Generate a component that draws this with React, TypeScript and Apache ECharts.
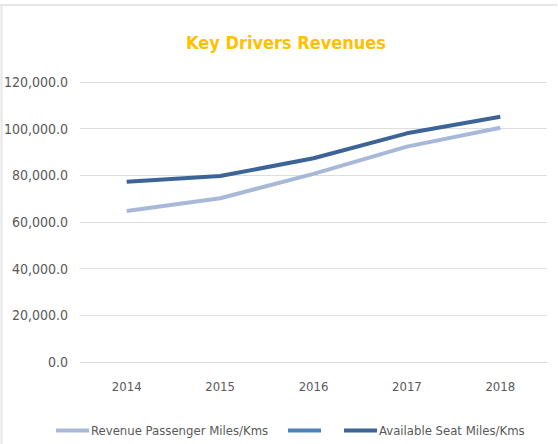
import React, { useEffect, useRef } from "react";
import * as echarts from "echarts";

const years = ["2014", "2015", "2016", "2017", "2018"];
const revenuePassenger = [64700, 70200, 80600, 92300, 100400];
const availableSeat = [77300, 79700, 87300, 98000, 105100];
const unnamedSeries: (number | null)[] = [null, null, null, null, null];

const FONT = "'DejaVu Sans Condensed', 'Liberation Sans', sans-serif";

const legendText = { color: "#595959", fontFamily: FONT, fontSize: 13, padding: [0, 0, 0, -3] };

function legendAt(name: string, left: number) {
  return {
    left,
    top: 419,
    icon: "rect",
    itemWidth: 33,
    itemHeight: 4,
    textStyle: legendText,
    data: [name],
  };
}

export default function App() {
  const ref = useRef<HTMLDivElement>(null);
  useEffect(() => {
    if (!ref.current) return;
    const chart = echarts.init(ref.current, null, { renderer: "svg" });
    chart.setOption({
      animation: false,
      backgroundColor: "#ffffff",
      title: {
        text: "Key Drivers Revenues",
        left: 281,
        textAlign: "center",
        top: 28,
        textStyle: { color: "#ffc000", fontFamily: FONT, fontWeight: "bold", fontSize: 18 },
      },
      grid: { left: 80, right: 11, top: 82, bottom: 82 },
      xAxis: {
        type: "category",
        data: years,
        boundaryGap: true,
        axisLine: { lineStyle: { color: "#d9d9d9" } },
        axisTick: { show: false },
        axisLabel: { color: "#595959", fontFamily: FONT, fontSize: 13, margin: 18 },
      },
      yAxis: {
        type: "value",
        min: 0,
        max: 120000,
        interval: 20000,
        axisLine: { show: false },
        axisTick: { show: false },
        splitLine: { lineStyle: { color: "#dedede", width: 1 } },
        axisLabel: {
          color: "#595959",
          fontFamily: FONT,
          fontSize: 14,
          margin: 12,
          formatter: (v: number) =>
            v.toLocaleString("en-US", { minimumFractionDigits: 1, maximumFractionDigits: 1 }),
        },
      },
      legend: [
        legendAt("Revenue Passenger Miles/Kms", 51),
        legendAt(" ", 283),
        legendAt("Available Seat Miles/Kms", 339),
      ],
      series: [
        {
          name: "Revenue Passenger Miles/Kms",
          type: "line",
          data: revenuePassenger,
          symbol: "none",
          lineStyle: { width: 4, color: "#a7b8d9" },
          itemStyle: { color: "#a7b8d9" },
        },
        {
          name: " ",
          type: "line",
          data: unnamedSeries,
          symbol: "none",
          lineStyle: { width: 4, color: "#4f81bd" },
          itemStyle: { color: "#4f81bd" },
        },
        {
          name: "Available Seat Miles/Kms",
          type: "line",
          data: availableSeat,
          symbol: "none",
          lineStyle: { width: 4, color: "#3d6497" },
          itemStyle: { color: "#3d6497" },
        },
      ],
      graphic: [
        { type: "line", shape: { x1: 0, y1: 5, x2: 557, y2: 5 }, style: { stroke: "#e6e6e6", lineWidth: 2 } },
        { type: "line", shape: { x1: 1.5, y1: 5, x2: 1.5, y2: 444 }, style: { stroke: "#e6e6e6", lineWidth: 2 } },
      ],
    });
    return () => chart.dispose();
  }, []);
  return <div ref={ref} style={{ width: 558, height: 444, position: "absolute", left: 0, top: 0 }} />;
}
